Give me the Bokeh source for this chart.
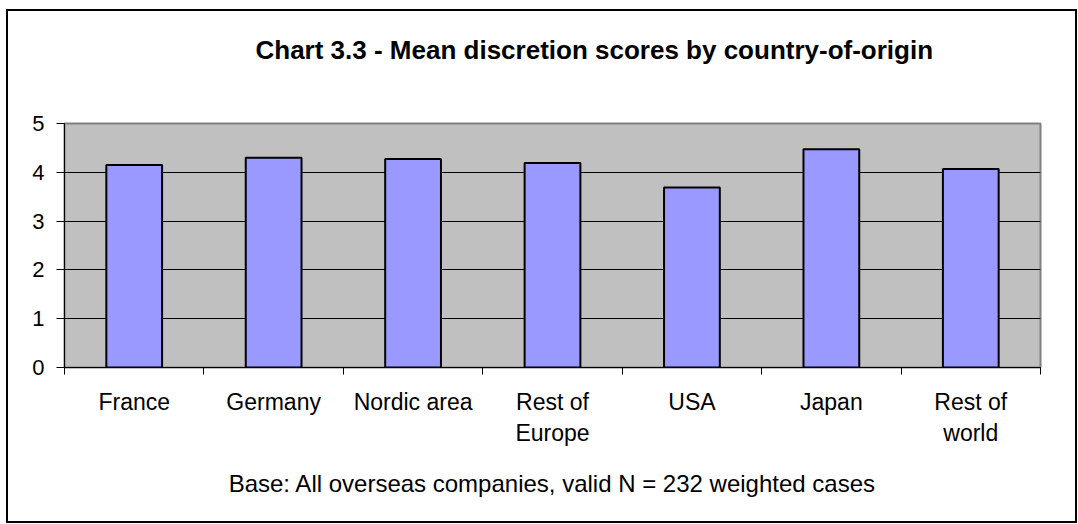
import numpy as np
from bokeh.plotting import figure
from bokeh.models import (Range1d, FixedTicker, LinearAxis, Title, ColumnDataSource)
from bokeh.embed import file_html
from bokeh.resources import INLINE

# ---- data ----
categories = ["France", "Germany", "Nordic area", "Rest of Europe", "USA", "Japan", "Rest of world"]
scores = [4.15, 4.30, 4.27, 4.19, 3.69, 4.47, 4.07]
label_text = {"Rest of Europe": "Rest of\nEurope", "Rest of world": "Rest of\nworld"}
y_ticks = [0, 1, 2, 3, 4, 5]
title_text = "Chart 3.3 - Mean discretion scores by country-of-origin"
note_text = "Base: All overseas companies, valid N = 232 weighted cases"

FONT = "Liberation Sans"

n = len(categories)
centers = (np.arange(n) + 0.5).tolist()
bounds = list(range(n + 1))

src = ColumnDataSource(dict(x=centers, val=scores))

W, H = 1078, 524
p = figure(x_range=Range1d(0, n), y_range=Range1d(0, 5), width=W, height=H,
           output_backend="svg", toolbar_location=None, x_axis_location=None,
           min_border_left=64, min_border_right=38, min_border_top=123, min_border_bottom=157)

# outer chart border drawn as CSS background lines behind a transparent canvas
line = "linear-gradient(#000000, #000000)"
p.styles = {
    "background": (f"{line} 6px 9px / 2px 514px no-repeat, "
                   f"{line} 6px 9px / 1071px 2px no-repeat, "
                   f"{line} 1075px 9px / 2px 514px no-repeat, "
                   f"{line} 6px 521px / 1071px 2px no-repeat, #ffffff"),
}

p.background_fill_color = "#C0C0C0"
p.border_fill_color = None
p.outline_line_color = "#808080"
p.outline_line_width = 2

p.vbar(x="x", top="val", width=0.4, source=src, fill_color="#9999FF",
       line_color="black", line_width=2)

# y axis
ya = p.yaxis[0]
ya.ticker = FixedTicker(ticks=y_ticks)
ya.minor_tick_line_color = None
ya.major_tick_in = 0
ya.major_tick_out = 8
ya.major_tick_line_color = "black"
ya.axis_line_color = "black"
ya.major_label_text_font = FONT
ya.major_label_text_font_size = "22px"
ya.major_label_text_color = "black"
ya.major_label_standoff = 12

p.xgrid.visible = False
p.ygrid.grid_line_color = "black"
p.ygrid.grid_line_width = 1
p.ygrid.ticker = FixedTicker(ticks=y_ticks)

# boundary ticks axis (Excel-style ticks between categories)
tick_axis = LinearAxis(ticker=FixedTicker(ticks=bounds))
tick_axis.major_tick_in = 0
tick_axis.major_tick_out = 7
tick_axis.minor_tick_line_color = None
tick_axis.axis_line_color = "black"
tick_axis.major_label_overrides = {b: "" for b in bounds}
tick_axis.major_label_text_font_size = "0px"
tick_axis.major_label_standoff = 0
p.add_layout(tick_axis, "below")

# category labels axis
cat_axis = LinearAxis(ticker=FixedTicker(ticks=centers))
cat_axis.major_tick_in = 0
cat_axis.major_tick_out = 0
cat_axis.minor_tick_line_color = None
cat_axis.axis_line_color = None
cat_axis.major_tick_line_color = None
cat_axis.major_label_overrides = {c: label_text.get(name, name) for c, name in zip(centers, categories)}
cat_axis.major_label_text_font = FONT
cat_axis.major_label_text_font_size = "23px"
cat_axis.major_label_text_color = "black"
cat_axis.major_label_standoff = 14
p.add_layout(cat_axis, "below")

# chart title: a trailing blank line lifts the text well above the plot area
p.title.text = title_text + "\n "
p.title.text_font = FONT
p.title.text_font_style = "bold"
p.title.text_font_size = "26px"
p.title.text_color = "black"
p.title.align = "left"
p.title.offset = 191
p.title.standoff = 58

# note below
note = Title(text=note_text, text_font=FONT, text_font_size="24px",
             text_font_style="normal", text_color="black", align="center", standoff=38)
p.add_layout(note, "below")

open("out.html", "w").write(file_html(p, INLINE))
